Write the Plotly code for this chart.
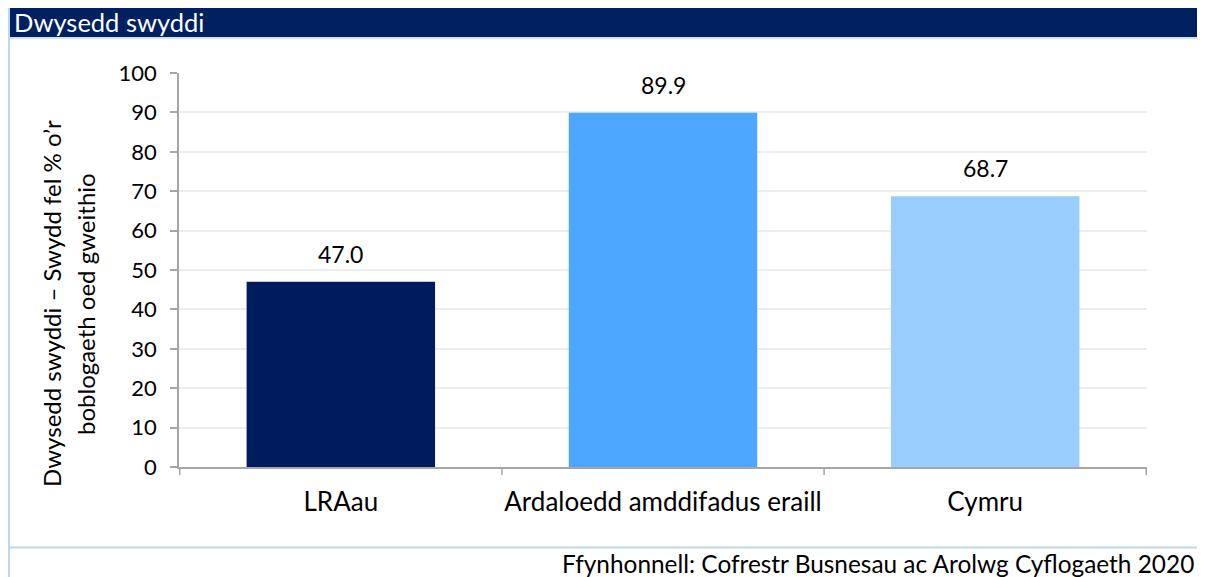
import plotly.graph_objects as go

categories = ["LRAau", "Ardaloedd amddifadus eraill", "Cymru"]
values = [47.0, 89.9, 68.7]
bar_colors = ["#001C5E", "#4DA6FF", "#99CCFF"]
y_ticks = [0, 10, 20, 30, 40, 50, 60, 70, 80, 90, 100]

title_text = "Dwysedd swyddi"
y_title_lines = ["Dwysedd swyddi – Swydd fel % o’r", "boblogaeth oed gweithio"]
source_text = "Ffynhonnell: Cofrestr Busnesau ac Arolwg Cyflogaeth 2020"

# page body has an 8px margin; compensate so the figure fills the window
OFF = 8
W, H = 1205 - OFF, 577 - OFF
L, R, T, B = 179 - OFF, 1147 - OFF, 73 - OFF, 467 - OFF
FONT = "Lato"


def px(x):
    return (x - OFF - L) / (R - L)


def py(y):
    return (B - (y - OFF)) / (B - T)


fig = go.Figure()
fig.add_trace(go.Bar(
    x=categories, y=values,
    marker=dict(color=bar_colors, line=dict(width=0)),
    width=0.585,
    hoverinfo="x+y",
))

shapes = []
border = "#BDD7EE"
# header band
shapes.append(dict(type="rect", xref="paper", yref="paper",
                   x0=px(9), x1=px(1215), y0=py(37), y1=py(0),
                   fillcolor="#002060", line=dict(width=0), layer="below"))
# left border
shapes.append(dict(type="line", xref="paper", yref="paper",
                   x0=px(9), x1=px(9), y0=py(0), y1=py(590),
                   line=dict(color=border, width=2)))
# under header
shapes.append(dict(type="line", xref="paper", yref="paper",
                   x0=px(8), x1=px(1215), y0=py(38), y1=py(38),
                   line=dict(color=border, width=1.5)))
# bottom separator
shapes.append(dict(type="line", xref="paper", yref="paper",
                   x0=px(8), x1=px(1215), y0=py(547.5), y1=py(547.5),
                   line=dict(color=border, width=2)))

annotations = [
    dict(text=title_text, xref="paper", yref="paper", x=px(12), y=py(22),
         xanchor="left", yanchor="middle", showarrow=False,
         font=dict(size=25.5, color="#FFFFFF", family=FONT)),
    dict(text=source_text, xref="paper", yref="paper", x=px(1196), y=py(563),
         xanchor="right", yanchor="middle", showarrow=False,
         font=dict(size=24.4, color="#000000", family=FONT)),
]

# axis title, one annotation per line
for line_text, xpos in zip(y_title_lines, [51, 85]):
    annotations.append(dict(
        text=line_text, xref="paper", yref="paper", x=px(xpos), y=py(304),
        xanchor="center", yanchor="middle", showarrow=False, textangle=-90,
        font=dict(size=24, color="#000000", family=FONT)))

# data labels from the values
for c, v in zip(categories, values):
    annotations.append(dict(
        text=f"{v:.1f}", x=c, y=v, xref="x", yref="y",
        xanchor="center", yanchor="bottom", yshift=12, showarrow=False,
        font=dict(size=23, color="#000000", family=FONT)))

fig.update_layout(
    width=W, height=H,
    margin=dict(l=L, r=W - R, t=T, b=H - B, autoexpand=False),
    paper_bgcolor="#FFFFFF", plot_bgcolor="#FFFFFF",
    showlegend=False,
    shapes=shapes, annotations=annotations,
    font=dict(family=FONT, size=22, color="#000000"),
    xaxis=dict(
        showline=True, linecolor="#A6A6A6", linewidth=1.5,
        ticks="", showgrid=False,
        tickfont=dict(size=26, family=FONT, color="#000000"),
        ticklabelstandoff=11,
    ),
    yaxis=dict(
        range=[0, 100], tickvals=y_ticks,
        showline=True, linecolor="#A6A6A6", linewidth=1.5,
        ticks="outside", ticklen=7, tickcolor="#A6A6A6", tickwidth=1.5,
        showgrid=True, gridcolor="#EDEDED", gridwidth=1.5,
        zeroline=False,
        tickfont=dict(size=22, family=FONT, color="#000000"),
        ticklabelstandoff=9,
    ),
    bargap=0.415,
)

# category boundary tick marks on the x-axis
for i in range(len(categories) + 1):
    fig.add_shape(type="line", xref="x", yref="paper",
                  x0=i - 0.5, x1=i - 0.5, y0=0, y1=py(475),
                  line=dict(color="#A6A6A6", width=1.5))

fig.write_html("out.html")
